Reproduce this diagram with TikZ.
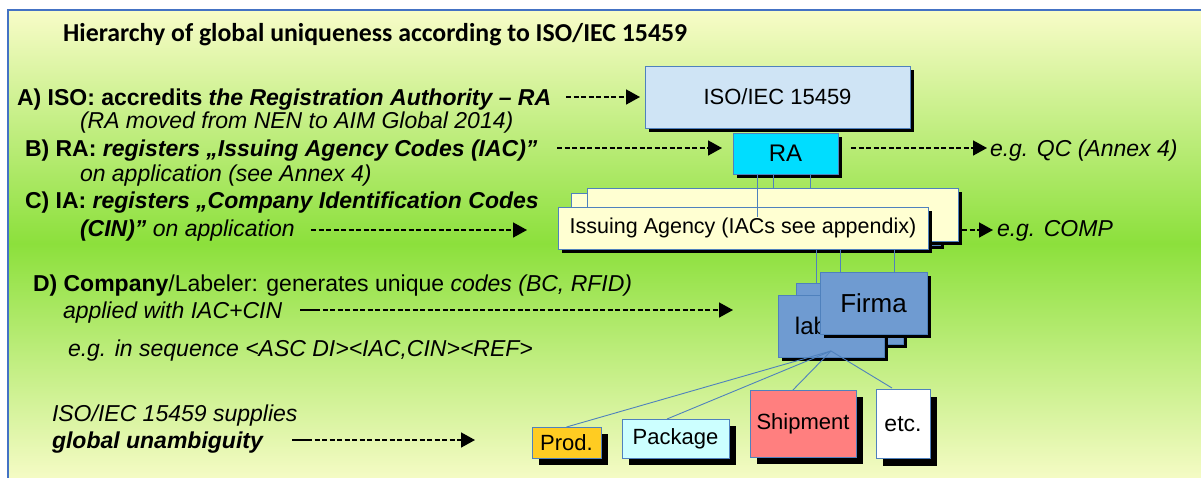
\documentclass[tikz,border=0pt]{standalone}
\usepackage{fontspec}
\setmainfont{Liberation Sans}
\newfontfamily\headfont{Carlito}
\usetikzlibrary{arrows.meta,shadows}

\definecolor{frameblue}{HTML}{4472C4}
\definecolor{boxline}{HTML}{4F81BD}
\definecolor{bgtop}{HTML}{F8FCC8}
\definecolor{bggreen}{HTML}{8CE03C}
\definecolor{bgbottom}{HTML}{F4FBC4}
\definecolor{isofill}{HTML}{CFE4F5}
\definecolor{rafill}{HTML}{00DDFF}
\definecolor{iafill}{HTML}{FFFFD2}
\definecolor{firmafill}{HTML}{6F9BD1}
\definecolor{prodfill}{HTML}{FFCC22}
\definecolor{pkgfill}{HTML}{CCFFFF}
\definecolor{shipfill}{HTML}{FF7F7F}

\begin{document}
\begin{tikzpicture}[x=1pt,y=-1pt,
  txt/.style={anchor=base west, inner sep=0pt, outer sep=0pt, font=\fontsize{23}{27}\selectfont},
  box/.style={draw=boxline, line width=1pt, inner sep=0pt, outer sep=0pt,
              font=\fontsize{22}{26}\selectfont},
  sbox/.style={box, drop shadow={shadow xshift=#1, shadow yshift=-#1, fill=black, opacity=1}},
  sbox/.default=4pt,
  conn/.style={draw=boxline, line width=0.9pt},
  darrow/.style={line width=1.6pt, dash pattern=on 5pt off 2.5pt,
                 -{Triangle[length=14pt,width=15pt]}},
  solidlead/.style={line width=1.6pt}
]
\useasboundingbox (0,0) rectangle (1201,477);
\clip (0,0) rectangle (1201,477);

% background panel with vertical gradient and blue frame
\fill[white] (0,0) rectangle (1201,477);
\shade[top color=bgtop, bottom color=bgbottom, middle color=bggreen] (8,10) rectangle (1201,477);
\draw[frameblue, line width=1.5pt] (8,480) -- (8,10) -- (1205,10);

% title
\node[anchor=base west, inner sep=0pt, font=\headfont\bfseries\fontsize{25.8}{30}\selectfont]
  (title) at (63,41) {Hierarchy of global uniqueness according to ISO/IEC 15459};

% issuing agency stack
\node[sbox, fill=iafill, minimum width=369pt, minimum height=52pt] (ia1) at (755.5,219) {};
\node[sbox, fill=iafill, minimum width=371pt, minimum height=53pt] (ia2) at (772.5,214.5) {};
\node[sbox, fill=iafill, minimum width=370pt, minimum height=42pt, font=\fontsize{21.5}{26}\selectfont]
  (ia) at (743,228) {Issuing Agency (IACs see appendix)};

% connectors from the issuing agency down to the companies (drawn below the boxes)
\draw[conn] ([xshift=258pt]ia.south west) -- (816,283);
\draw[conn] ([xshift=282pt]ia.south west) -- (840,272);
\draw[conn] ([xshift=336pt]ia.south west) -- (894,272);

% company / labeler stack
\node[sbox, fill=firmafill, minimum width=107pt, minimum height=61pt] (lbB) at (849.5,313.5) {};
\node[sbox, fill=firmafill, minimum width=106pt, minimum height=62pt, font=\fontsize{24}{28}\selectfont]
  (lbA) at (831,326) {labeler};
\node[sbox, fill=firmafill, minimum width=107pt, minimum height=62pt, font=\fontsize{26}{30}\selectfont]
  (firma) at (873.5,303) {Firma};

% fan-out from the labeler to the tagged items
\coordinate (fan) at ([yshift=6pt]lbA.south);
\draw[conn] (fan) -- (566.5,427);
\draw[conn] (fan) -- (667,419);
\draw[conn] (fan) -- (790,393);
\draw[conn] (fan) -- (892,388);

% standard and registration authority
\node[sbox, fill=isofill, minimum width=265pt, minimum height=62pt] (iso) at (777.5,97) {ISO/IEC 15459};
\node[sbox, fill=rafill, minimum width=105pt, minimum height=41pt, font=\fontsize{24}{28}\selectfont]
  (ra) at (785.5,153.5) {RA};

\draw[conn] ([xshift=24pt]ra.south west) -- ([xshift=199pt,yshift=-10pt]ia.north west);
\draw[conn] ([xshift=40pt]ra.south west) -- ([xshift=186pt]ia2.north west);
\draw[conn] ([xshift=77pt]ra.south west) -- ([xshift=223pt]ia2.north west);

% tagged items
\node[sbox=7pt, fill=prodfill, minimum width=69pt, minimum height=31pt] (prod) at (566.5,442.5) {Prod.};
\node[sbox=7pt, fill=pkgfill, minimum width=107pt, minimum height=39pt] (pkg) at (675.5,438.5) {Package};
\node[sbox=7pt, fill=shipfill, minimum width=106pt, minimum height=67pt] (ship) at (803,423.5) {Shipment};
\node[sbox=7pt, fill=white, minimum width=54pt, minimum height=69pt, font=\fontsize{23}{27}\selectfont]
  (etc) at (903,424) {etc.};

% explanatory text
\node[txt] (tA) at (17,105) {\bfseries A) ISO: accredits \itshape the Registration Authority – RA};
\node[txt] (tA2) at (80,128) {\itshape (RA moved from NEN to AIM Global 2014)};
\node[txt] (tB) at (25,156) {\bfseries B) RA: \itshape registers „Issuing Agency Codes (IAC)”};
\node[txt] (tB2) at (80,181) {\itshape on application (see Annex 4)};
\node[txt] (tC) at (25,208) {\bfseries C) IA: \itshape registers „Company Identification Codes};
\node[txt] (tC2) at (80,236) {\itshape\textbf{(CIN)”} on application};
\node[txt] (tD) at (33,291) {\textbf{D) Company}/Labeler: generates unique \textit{codes (BC, RFID)}};
\node[txt] (tD2) at (63,318) {\itshape applied with IAC+CIN};
\node[txt] (tD3) at (68,356) {\itshape e.g. in sequence <ASC DI><IAC,CIN><REF>};
\node[txt] (tE) at (52,421) {\itshape ISO/IEC 15459 supplies};
\node[txt] (tE2) at (52,448) {\bfseries\itshape global unambiguity};
\node[txt] (qc) at (990,156) {\itshape e.g. QC (Annex 4)};
\node[txt] (comp) at (997,236) {\itshape e.g. COMP};

% dashed arrows
\coordinate (aA) at (566,97);
\coordinate (aB) at (557,148);
\coordinate (aQ) at (851,148);
\coordinate (aC) at (311,230);
\coordinate (aK) at (962,230);
\coordinate (aD) at (300,310);
\coordinate (aE) at (292,440);

\draw[darrow, shorten >=5pt] (aA) -- (aA -| iso.west);
\draw[darrow, shorten >=11pt] (aB) -- (aB -| ra.west);
\draw[darrow, shorten >=3pt] (aQ) -- (aQ -| qc.west);
\draw[darrow, shorten >=31pt] (aC) -- (aC -| ia.west);
\draw[darrow, shorten >=4pt] (aK) -- (aK -| comp.west);
\draw[darrow, shorten >=45pt] (aD) -- (aD -| lbA.west);
\draw[solidlead] (aD) -- ++(15,0);
\draw[darrow, shorten >=57pt] (aE) -- (aE -| prod.west);
\draw[solidlead] (aE) -- ++(15,0);
\end{tikzpicture}
\end{document}
